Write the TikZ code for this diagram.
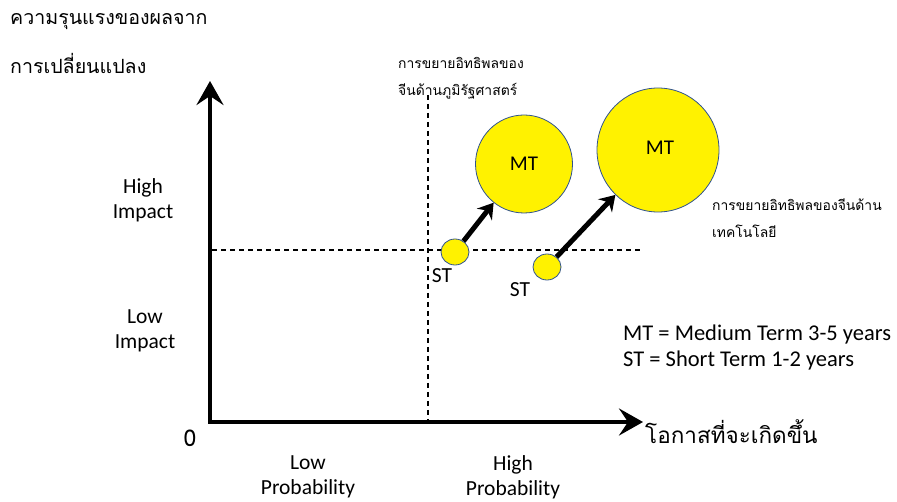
\documentclass[tikz,border=0pt]{standalone}
\usepackage{fontspec}
\setmainfont{Carlito}
\newfontfamily\thai[Script=Thai]{Loma}
\usetikzlibrary{arrows.meta,shapes.geometric}
\definecolor{rim}{HTML}{2F528F}
\tikzset{
  axisline/.style={line width=4.5pt, line join=miter, {Stealth[length=24pt,width=27pt,inset=9pt]}-{Stealth[length=24pt,width=27pt,inset=9pt]}},
  growarrow/.style={line width=5pt, -{Stealth[length=15pt,width=19pt,inset=5pt]}},
  divider/.style={line width=1.4pt, dash pattern=on 5pt off 4pt},
  bubble/.style={ellipse, draw=rim, line width=0.8pt, fill=yellow, inner sep=0pt, font=\fontsize{21}{25}\selectfont},
  lbl/.style={font=\fontsize{21.5}{25}\selectfont, align=center, inner sep=0pt},
  thaibig/.style={font=\thai\fontsize{19.6}{40}\selectfont, anchor=west, inner sep=0pt},
  thaiaxis/.style={font=\thai\fontsize{22.5}{40}\selectfont, anchor=west, inner sep=0pt},
  thaismall/.style={font=\thai\fontsize{13.9}{27}\selectfont, anchor=west, inner sep=0pt, align=left},
}
\begin{document}
\begin{tikzpicture}[x=1pt,y=-1pt]
\useasboundingbox (0,0) rectangle (897,502);
% axes
\coordinate (o) at (210,422);
\coordinate (ytip) at (210,81);
\coordinate (xtip) at (643,422);
% dividers
\coordinate (vtop) at (428,95);
\coordinate (vbot) at (428,420);
\coordinate (hl) at (212,250);
\coordinate (hr) at (640,250);
\draw[divider] (vtop) -- (vbot);
\draw[divider] (hl) -- (hr);
\draw[axisline] (ytip) -- (o) -- (xtip);
% bubbles
\node[bubble, minimum width=28pt, minimum height=26pt] (st1) at (455,252) {};
\node[bubble, minimum width=28pt, minimum height=26pt] (st2) at (547,267) {};
\node[bubble, minimum width=97pt, minimum height=98pt] (mt1) at (524,164) {MT};
\node[bubble, minimum width=122pt, minimum height=124pt] (mt2) at (658,150) {};
\node[bubble, draw=none, fill=none] (mt2l) at (660,148) {MT};
\draw[growarrow] (st1) -- (mt1);
\draw[growarrow] (st2) -- (mt2);
\node[lbl] (st1l) at (442,276) {ST};
\node[lbl] (st2l) at (520,290) {ST};
% axis labels
\node[thaibig] (ytitle) at (10,22) {ความรุนแรงของผลจาก};
\node[thaibig] (ytitle2) at (10,63) {การเปลี่ยนแปลง};
\node[thaiaxis] (xtitle) at (645,432) {โอกาสที่จะเกิดขึ้น};
\node[lbl] (hi) at (143,200) {High\\Impact};
\node[lbl] (li) at (145,331) {Low\\Impact};
\node[lbl, font=\thai\fontsize{23}{25}\selectfont] (zero) at (190,438) {0};
\node[lbl] (lp) at (308,477) {Low\\Probability};
\node[lbl] (hp) at (513,477) {High\\Probability};
% annotations
\node[thaismall] (geo) at (398,78) {การขยายอิทธิพลของ\\จีนด้านภูมิรัฐศาสตร์};
\node[thaismall] (tech) at (712,218) {การขยายอิทธิพลของจีนด้าน\\เทคโนโลยี};
% legend
\node[lbl, anchor=west, align=left, font=\fontsize{22.5}{26}\selectfont] (legend) at (623,348) {MT = Medium Term 3-5 years\\ST = Short Term 1-2 years};
\end{tikzpicture}
\end{document}
